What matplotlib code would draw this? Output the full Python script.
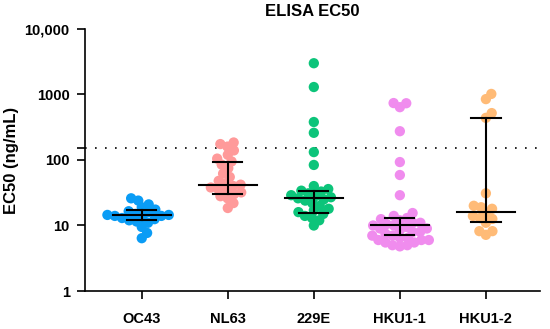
import numpy as np
import matplotlib
matplotlib.use('Agg')
import matplotlib.pyplot as plt
from matplotlib.ticker import FixedLocator, FixedFormatter, NullLocator

plt.rcParams['font.family'] = ['Liberation Sans', 'DejaVu Sans']
plt.rcParams['font.weight'] = 'bold'

# data
groups = ['OC43', 'NL63', '229E', 'HKU1-1', 'HKU1-2']
colors = ['#0a9cf5', '#ff9a9a', '#0cc47a', '#f08cee', '#ffbb77']
oc43 = [26, 24, 21, 19, 17.5, 16.5, 16, 15, 14.5, 14.5, 14, 14, 13.5, 13, 12.5, 12, 11.5, 11, 9.5, 7.7, 6.4]
nl63 = [185, 175, 160, 140, 120, 105, 95, 85, 75, 62, 55, 48, 44, 42, 40, 38, 36, 34, 32, 30, 28, 26, 22, 18.5]
e229 = [3000, 1300, 380, 260, 132, 84, 40, 36, 34, 33, 31, 29, 28, 27, 26, 25, 24, 22, 20, 18, 17, 16, 15, 14, 13, 12, 10]
hku1_1 = [740, 735, 640, 275, 93, 59, 29, 15.5, 14, 13, 12.5, 12, 11, 11, 10.5, 10, 10, 9.5,
          9, 9, 8.5, 8, 8, 7.5, 7, 7, 6.5, 6.5, 6, 6, 6, 5.5, 5.5, 5, 5, 4.8]
hku1_2 = [1020, 850, 520, 440, 31, 20, 19, 18, 15.5, 14, 13, 12.6, 11, 8.2, 8.2, 7.2]
medians = [14.5, 41.5, 26, 10, 16]
q1 = [12.1, 30, 15.5, 7.2, 11.3]
q3 = [17.2, 93, 34, 13, 440]
cutoff = 150

fig = plt.figure(figsize=(5.5, 3.29), dpi=100)
ax = fig.add_axes([0.1545, 0.1155, 0.8275, 0.7964])
ax.set_yscale('log')
ax.set_ylim(1, 10000)
ax.set_xlim(-0.66, 4.63)

def swarm(vals, d):
    # simple beeswarm in pixel space, returns x offsets in pixels
    ys = ax.transData.transform(np.column_stack([np.zeros(len(vals)), vals]))[:, 1]
    offs = np.zeros(len(vals))
    placed = []
    for i in np.argsort(vals):
        y = ys[i]
        cands = [0.0]
        for xo, yo in placed:
            dy = y - yo
            if abs(dy) < d:
                dx = np.sqrt(d * d - dy * dy)
                cands += [xo + dx, xo - dx]
        cands.sort(key=abs)
        for c in cands:
            if all((c - xo) ** 2 + (y - yo) ** 2 >= d * d - 1e-6 for xo, yo in placed):
                offs[i] = c
                break
        placed.append((offs[i], y))
    return offs

px_per_unit = ax.transData.transform((1, 1))[0] - ax.transData.transform((0, 1))[0]

for i, vals in enumerate([oc43, nl63, e229, hku1_1, hku1_2]):
    offs = swarm(vals, 7.5)
    ax.scatter(i + offs / px_per_unit, vals, s=55, color=colors[i], edgecolors='none', zorder=2)
    # median and interquartile range
    ax.plot([i - 0.34, i + 0.34], [medians[i], medians[i]], color='black', lw=1.5, zorder=3)
    ax.plot([i, i], [q1[i], q3[i]], color='black', lw=1.5, zorder=3)
    for q in (q1[i], q3[i]):
        ax.plot([i - 0.17, i + 0.17], [q, q], color='black', lw=1.5, zorder=3)

ax.axhline(cutoff, color='black', lw=1.2, ls=(0, (1, 5)), zorder=1)

ax.yaxis.set_major_locator(FixedLocator([1, 10, 100, 1000, 10000, cutoff]))
ax.yaxis.set_major_formatter(FixedFormatter(['1', '10', '100', '1000', '10,000', '']))
ax.yaxis.set_minor_locator(NullLocator())
ax.set_xticks(range(len(groups)))
ax.set_xticklabels(groups)
ax.tick_params(axis='both', direction='out', length=6, width=1.2, labelsize=10.5, pad=5)
ax.tick_params(axis='x', pad=9)
for lab in ax.get_xticklabels() + ax.get_yticklabels():
    lab.set_fontweight('bold')
ax.spines['top'].set_visible(False)
ax.spines['right'].set_visible(False)
ax.spines['left'].set_linewidth(1.2)
ax.spines['bottom'].set_linewidth(1.2)

ax.set_ylabel('EC50 (ng/mL)', fontsize=12, fontweight='bold', labelpad=4)
ax.set_title('ELISA EC50', fontsize=12, fontweight='bold', pad=9)

fig.savefig('out.png', dpi=100)
